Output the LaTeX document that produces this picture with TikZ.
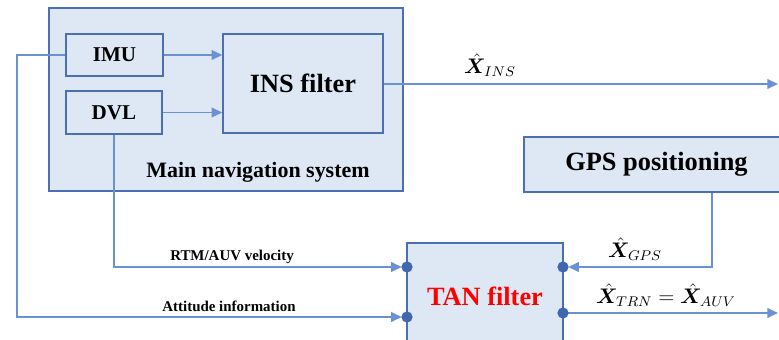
\documentclass[tikz,border=0pt]{standalone}
\usepackage{fontspec}
\usepackage{amsmath}
\usepackage{bm}
\setmainfont{Liberation Serif}
\usetikzlibrary{positioning,arrows.meta,calc}

\definecolor{boxfill}{HTML}{DEE8F5}
\definecolor{boxline}{HTML}{4A6FB5}
\definecolor{wire}{HTML}{6A91D3}
\definecolor{portdot}{HTML}{3F68B0}

\begin{document}
\begin{tikzpicture}[
  x=0.02cm, y=-0.02cm,
  box/.style={draw=boxline, line width=0.9pt, fill=boxfill, inner sep=0pt, align=center},
  unit/.style={box, font=\fontsize{12}{14}\selectfont\bfseries},
  block/.style={box, font=\fontsize{15}{17}\selectfont\bfseries},
  conn/.style={wire, line width=0.8pt},
  arr/.style={conn, -{Triangle[length=6pt,width=5.5pt]}},
  sig/.style={font=\fontsize{8.5}{10}\selectfont\bfseries, inner sep=1pt},
  est/.style={font=\fontsize{11.5}{13}\selectfont, inner sep=1pt}
]
\useasboundingbox (0,0) rectangle (779,340);
\clip (0,0) rectangle (779,340);

% main navigation system
\node[box, minimum width=7.08cm, minimum height=3.66cm] (mainsys) at (226,99.5) {};
\node[font=\fontsize{12.5}{14}\selectfont\bfseries] (mainlbl) at (258,172) {Main navigation system};
\node[unit, minimum width=1.94cm, minimum height=0.84cm] (imu) at (114.5,55) {IMU};
\node[unit, minimum width=1.92cm, minimum height=0.86cm] (dvl) at (114,112.5) {DVL};
\node[block, minimum width=3.2cm, minimum height=1.98cm] (ins) at (303,83.5) {INS filter};

% other blocks
\node[block, minimum width=5.3cm, minimum height=1.1cm] (gps) at (656.5,164.5) {GPS positioning};
\node[block, minimum width=3.12cm, minimum height=2.12cm, text=red] (tan) at (485,296) {TAN filter};

% ports
\coordinate (tin1) at (407,267);
\coordinate (tin2) at (407,317);
\coordinate (tout1) at (563,267);
\coordinate (tout2) at (563,313);
\coordinate (insend) at (778,84);
\coordinate (tanend) at (778,313);
\coordinate (leftx) at (17,0);
\coordinate (gpsx) at (712,0);

\draw[arr] (imu.east) -- (imu.east -| ins.west);
\draw[arr] (dvl.east) -- (dvl.east -| ins.west);
\draw[arr] (ins.east |- insend) -- (insend);
\draw[arr, shorten >=3pt] (dvl.south) |- (tin1);
\draw[arr, shorten >=3pt] (imu.west) -| (leftx |- tin2) -- (tin2);
\draw[arr, shorten >=3pt] (gps.south -| gpsx) |- (tout1);
\draw[arr] (tout2) -- (tanend);

\foreach \p in {tin1,tin2,tout1,tout2}
  \fill[portdot] (\p) circle [radius=3.2pt];

% labels
\node[est] (xins) at (490,65) {$\hat{\bm{X}}_{INS}$};
\node[est] (xgps) at (635,249) {$\hat{\bm{X}}_{GPS}$};
\node[est] (xtrn) at (666,295) {$\hat{\bm{X}}_{TRN} = \hat{\bm{X}}_{AUV}$};
\node[sig] (rtm) at (232,257) {RTM/AUV velocity};
\node[sig] (att) at (229,306) {Attitude information};
\end{tikzpicture}
\end{document}
